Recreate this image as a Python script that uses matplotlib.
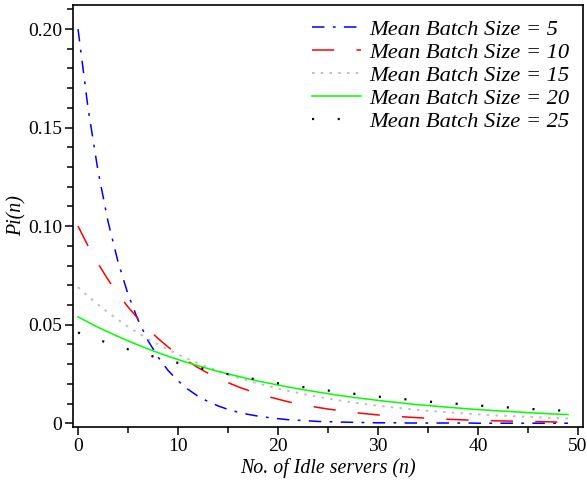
import matplotlib
matplotlib.use("Agg")
import matplotlib.pyplot as plt
from matplotlib.ticker import MultipleLocator, FuncFormatter

plt.rcParams['font.family'] = 'Liberation Serif'
plt.rcParams['font.size'] = 13.5
plt.rcParams['lines.scale_dashes'] = False

n = list(range(50))

# values, Pi(n) for n = 0..49
batch5 = [0.2000, 0.1600, 0.1280, 0.1024, 0.0819, 0.0655, 0.0524, 0.0419, 0.0336, 0.0268,
          0.0215, 0.0172, 0.0137, 0.0110, 0.0088, 0.0070, 0.0056, 0.0045, 0.0036, 0.0029,
          0.0023, 0.0018, 0.0015, 0.0012, 0.0009, 0.0008, 0.0006, 0.0005, 0.0004, 0.0003,
          0.0002, 0.0002, 0.0002, 0.0001, 0.0001, 0.0001, 0.0001, 0.0001, 0.0001, 0.0001,
          0.0000, 0.0000, 0.0000, 0.0000, 0.0000, 0.0000, 0.0000, 0.0000, 0.0000, 0.0000]
batch10 = [0.1000, 0.0900, 0.0810, 0.0729, 0.0656, 0.0590, 0.0531, 0.0478, 0.0430, 0.0387,
           0.0349, 0.0314, 0.0282, 0.0254, 0.0229, 0.0206, 0.0185, 0.0167, 0.0150, 0.0135,
           0.0122, 0.0109, 0.0098, 0.0089, 0.0080, 0.0072, 0.0065, 0.0058, 0.0052, 0.0047,
           0.0042, 0.0038, 0.0034, 0.0031, 0.0028, 0.0025, 0.0023, 0.0020, 0.0018, 0.0016,
           0.0015, 0.0013, 0.0012, 0.0011, 0.0010, 0.0009, 0.0008, 0.0007, 0.0006, 0.0006]
batch15 = [0.0690, 0.0644, 0.0602, 0.0562, 0.0525, 0.0490, 0.0458, 0.0428, 0.0400, 0.0373,
           0.0349, 0.0326, 0.0304, 0.0284, 0.0265, 0.0248, 0.0231, 0.0216, 0.0202, 0.0189,
           0.0176, 0.0164, 0.0154, 0.0144, 0.0134, 0.0125, 0.0117, 0.0109, 0.0102, 0.0095,
           0.0089, 0.0083, 0.0078, 0.0073, 0.0068, 0.0063, 0.0059, 0.0055, 0.0052, 0.0048,
           0.0045, 0.0042, 0.0039, 0.0037, 0.0034, 0.0032, 0.0030, 0.0028, 0.0026, 0.0024]
batch20 = [0.0540, 0.0513, 0.0487, 0.0463, 0.0440, 0.0418, 0.0397, 0.0377, 0.0358, 0.0340,
           0.0323, 0.0307, 0.0292, 0.0277, 0.0263, 0.0250, 0.0238, 0.0226, 0.0214, 0.0204,
           0.0194, 0.0184, 0.0175, 0.0166, 0.0158, 0.0150, 0.0142, 0.0135, 0.0128, 0.0122,
           0.0116, 0.0110, 0.0105, 0.0099, 0.0094, 0.0090, 0.0085, 0.0081, 0.0077, 0.0073,
           0.0069, 0.0066, 0.0063, 0.0060, 0.0057, 0.0054, 0.0051, 0.0048, 0.0046, 0.0044]
batch25 = [0.0460, 0.0442, 0.0424, 0.0407, 0.0391, 0.0375, 0.0360, 0.0346, 0.0332, 0.0319,
           0.0306, 0.0294, 0.0282, 0.0271, 0.0260, 0.0249, 0.0239, 0.0230, 0.0221, 0.0212,
           0.0203, 0.0195, 0.0187, 0.0180, 0.0173, 0.0166, 0.0159, 0.0153, 0.0147, 0.0141,
           0.0135, 0.0130, 0.0125, 0.0120, 0.0115, 0.0110, 0.0106, 0.0102, 0.0098, 0.0094,
           0.0090, 0.0086, 0.0083, 0.0080, 0.0076, 0.0073, 0.0070, 0.0068, 0.0065, 0.0062]

labels = ['Mean Batch Size = 5', 'Mean Batch Size = 10', 'Mean Batch Size = 15',
          'Mean Batch Size = 20', 'Mean Batch Size = 25']

fig = plt.figure(figsize=(5.87, 4.82), dpi=100)
ax = fig.add_axes([0.1249, 0.1142, 0.8677, 0.8758])

ax.plot(n, batch5, color='#0000ff', lw=1.1, ls=(0, (9, 6, 2, 6)), label=labels[0])
ax.plot(n, batch10, color='#ff0000', lw=1.1, ls=(0, (16, 16)), label=labels[1])
ax.plot(n, batch15, color='#bfbfbf', lw=1.4, ls=(0, (1.8, 4.5)), label=labels[2])
ax.plot(n, batch20, color='#00ff00', lw=1.1, ls='-', label=labels[3])
ax.plot(n, batch25, color='black', lw=1.6, ls=(0, (1.5, 17)), label=labels[4])

ax.set_xlim(-0.47, 50.47)
ax.set_ylim(-0.0019, 0.2123)

ax.xaxis.set_major_locator(MultipleLocator(10))
ax.xaxis.set_minor_locator(MultipleLocator(5))
ax.yaxis.set_major_locator(MultipleLocator(0.05))
ax.yaxis.set_minor_locator(MultipleLocator(0.01))
ax.yaxis.set_major_formatter(FuncFormatter(lambda v, p: '0' if abs(v) < 1e-9 else '%.2f' % v))
ax.tick_params(which='major', direction='out', length=6, width=1.1, pad=2, labelsize=14)
ax.tick_params(which='minor', direction='out', length=4, width=1.1)
for s in ax.spines.values():
    s.set_linewidth(1.2)

ax.set_xlabel('No. of Idle servers (n)', style='italic', fontsize=14.3, labelpad=2)
ax.set_ylabel('Pi(n)', style='italic', fontsize=14.3, labelpad=1)

ax.legend(loc='upper right', frameon=False, handlelength=2.2, handletextpad=0.35,
          labelspacing=0.1, prop={'style': 'italic', 'size': 16.2},
          borderaxespad=0.2, bbox_to_anchor=(1.0, 0.997))

plt.savefig('out.png', dpi=100)
